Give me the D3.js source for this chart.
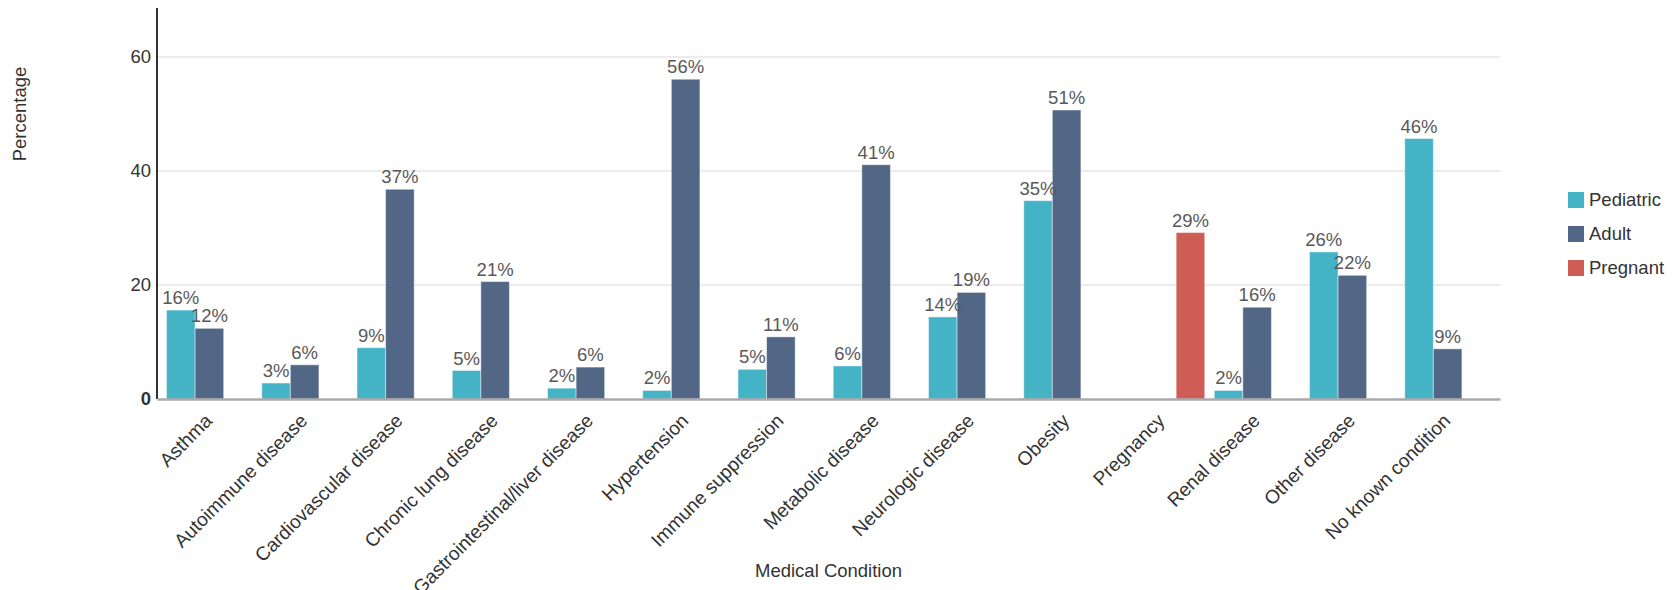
<!DOCTYPE html>
<html>
<head>
<meta charset="utf-8">
<script src="https://cdn.jsdelivr.net/npm/d3@7"></script>
<style>
  html, body { margin: 0; padding: 0; background: #fff; }
  svg { display: block; font-family: "Liberation Sans", Arial, sans-serif; }
</style>
</head>
<body>
<svg id="chart" width="1673" height="590"></svg>
<script>
const categories = ["Asthma", "Autoimmune disease", "Cardiovascular disease", "Chronic lung disease",
  "Gastrointestinal/liver disease", "Hypertension", "Immune suppression", "Metabolic disease",
  "Neurologic disease", "Obesity", "Pregnancy", "Renal disease", "Other disease", "No known condition"];
const seriesNames = ["Pediatric", "Adult", "Pregnant"];
const pediatric = [15.6, 2.8, 9.0, 5.0, 1.9, 1.5, 5.2, 5.8, 14.4, 34.8, null, 1.5, 25.8, 45.7];
const adult     = [12.4, 6.0, 36.8, 20.6, 5.6, 56.1, 10.9, 41.1, 18.7, 50.7, null, 16.1, 21.7, 8.8];
const pregnant  = [null, null, null, null, null, null, null, null, null, null, 29.2, null, null, null];
const seriesColors = ["#44b3c6", "#526685", "#cd5d55"];
const yTicks = [0, 20, 40, 60];
const yMax = 68.6;

(function () {
const values = [pediatric, adult, pregnant];
const svg = d3.select("#chart");

const mLeft = 157, mRight = 1500, mTop = 8, mBottom = 399;
const x0 = d3.scaleBand().domain(categories).range([mLeft, mRight]).padding(0.1);
const x1 = d3.scaleBand().domain(seriesNames).range([0, x0.bandwidth()]);
const y = d3.scaleLinear().domain([0, yMax]).range([mBottom, mTop]);
const color = d3.scaleOrdinal().domain(seriesNames).range(seriesColors);

// gridlines
svg.append("g").selectAll("line").data(yTicks.filter(d => d > 0)).join("line")
  .attr("x1", mLeft).attr("x2", mRight)
  .attr("y1", d => y(d)).attr("y2", d => y(d))
  .attr("stroke", "#e6e6e6").attr("stroke-width", 1.5);

// y axis via d3 axis
const yAxis = svg.append("g").attr("transform", `translate(${mLeft},0)`)
  .call(d3.axisLeft(y).tickValues(yTicks).tickSize(0).tickPadding(6).tickFormat(d3.format("d")));
yAxis.select(".domain").remove();
yAxis.selectAll("text")
  .attr("fill", "#333").style("font-size", "18.5px")
  .style("font-family", "'Liberation Sans', Arial, sans-serif")
  .style("font-weight", d => d === 0 ? "bold" : "normal");

// flat data
const flat = [];
categories.forEach((c, i) => {
  seriesNames.forEach((s, j) => {
    const v = values[j][i];
    if (v !== null && v !== undefined) flat.push({ cat: c, series: s, value: v });
  });
});

// bars
svg.append("g").selectAll("rect").data(flat).join("rect")
  .attr("x", d => x0(d.cat) + x1(d.series))
  .attr("width", x1.bandwidth())
  .attr("y", d => y(d.value))
  .attr("height", d => y(0) - y(d.value))
  .attr("fill", d => color(d.series))
  .attr("stroke", "rgba(255,255,255,0.45)").attr("stroke-width", 1);

// value labels
svg.append("g").selectAll("text").data(flat).join("text")
  .attr("x", d => x0(d.cat) + x1(d.series) + x1.bandwidth() / 2)
  .attr("y", d => y(d.value) - 6)
  .attr("text-anchor", "middle")
  .attr("fill", "#595959").style("font-size", "18.5px")
  .text(d => Math.round(d.value) + "%");

// y axis line
svg.append("line").attr("x1", mLeft).attr("x2", mLeft).attr("y1", mTop).attr("y2", mBottom)
  .attr("stroke", "#333").attr("stroke-width", 2);

// x axis baseline and labels
const xAxis = svg.append("g").attr("transform", `translate(0,${mBottom})`)
  .call(d3.axisBottom(x0).tickSize(0).tickPadding(0));
xAxis.select(".domain").attr("stroke", "#aaa").attr("stroke-width", 2.5);
xAxis.selectAll("text")
  .attr("fill", "#333").style("font-size", "19.2px")
  .style("font-family", "'Liberation Sans', Arial, sans-serif")
  .attr("text-anchor", "end")
  .attr("dy", null).attr("y", null)
  .attr("transform", "translate(4,23) rotate(-45)");

// axis titles
svg.append("text")
  .attr("transform", "translate(26,114) rotate(-90)")
  .attr("text-anchor", "middle").attr("fill", "#333").style("font-size", "18.5px")
  .text("Percentage");
svg.append("text")
  .attr("x", 755).attr("y", 577)
  .attr("fill", "#333").style("font-size", "18.5px")
  .text("Medical Condition");

// legend
const legend = svg.append("g").selectAll("g").data(seriesNames).join("g")
  .attr("transform", (d, i) => `translate(1568,${192 + i * 34})`);
legend.append("rect").attr("width", 16).attr("height", 16).attr("fill", d => color(d));
legend.append("text").attr("x", 21).attr("y", 8).attr("dy", "0.35em")
  .attr("fill", "#333").style("font-size", "18.5px").text(d => d);
})();
</script>
</body>
</html>
